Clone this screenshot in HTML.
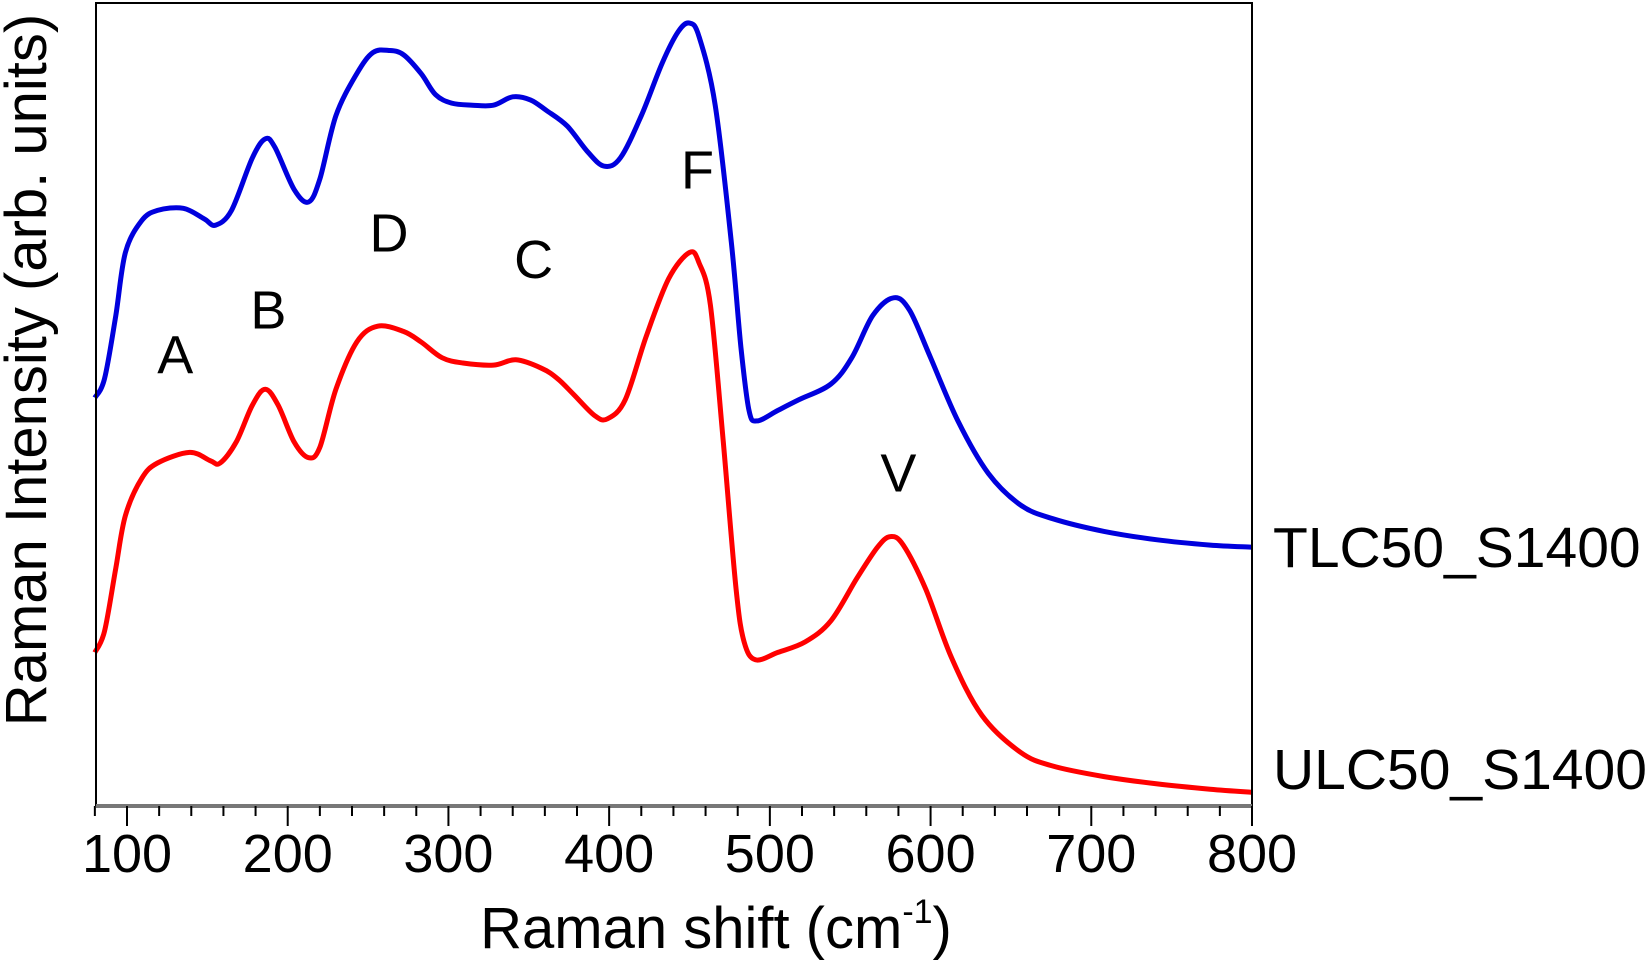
<!DOCTYPE html>
<html><head><meta charset="utf-8"><style>
html,body{margin:0;padding:0;background:#fff;width:1650px;height:960px;overflow:hidden}
svg{display:block;font-family:"Liberation Sans",Arial,sans-serif}
</style></head><body>
<svg id="chart" width="1650" height="960" viewBox="0 0 1650 960">
<g id="marks"></g>
<rect x="96" y="3" width="1156" height="802" fill="none" stroke="#000" stroke-width="2"/>
<line x1="96" y1="806" x2="1252" y2="806" stroke="#777" stroke-width="4"/>
<g id="xticks"></g>
<text x="716" y="948" font-size="58" text-anchor="middle">Raman shift (cm<tspan font-size="34" dy="-25">-1</tspan><tspan dy="25">)</tspan></text>
<text transform="translate(46,370) rotate(-90)" font-size="58" text-anchor="middle">Raman Intensity (arb. units)</text>
<text x="1273" y="567" font-size="57">TLC50_S1400</text>
<text x="1273" y="789" font-size="57">ULC50_S1400</text>
<g id="peaks" font-size="54" text-anchor="middle"></g>
</svg>
<script>
const blueX=[80,86,93,99,109,119,135,148,155,165,178,186,192,204,213,220,230,243,253,263,272,283,292,302,315,328,340,351,361,374,387,397,407,420,433,443,450,456,466,476,482,487,492,505,518,538,551,564,577,587,600,617,636,656,676,708,741,774,800];
const blueY=[422,440,500,560,590,600,602,592,586,600,650,668,660,620,608,630,690,730,750,752,748,730,710,702,700,700,708,705,695,680,655,642,650,690,740,770,778,765,700,570,470,410,400,410,420,435,460,500,517,505,460,400,350,320,307,295,287,282,280];
const redX=[80,86,93,99,109,119,139,152,158,168,178,186,194,204,213,220,230,243,256,272,283,296,309,328,342,358,368,378,391,399,410,423,437,450,456,463,471,479,484,491,505,522,538,554,567,575,583,597,613,632,656,676,708,741,774,800];
const redY=[180,200,260,310,345,360,370,362,360,380,415,430,415,380,365,375,430,475,490,485,475,460,455,453,458,450,440,425,405,402,420,480,535,560,550,510,380,240,190,173,180,190,210,250,280,290,282,240,175,120,85,72,62,55,50,47];
const tickLabels=["100","200","300","400","500","600","700","800"];
const peakNames=["A","B","D","C","F","V"];
const peakX=[130,188,263,353,455,580];
const peakY=[464,507,580,555,640,352];
const NS="http://www.w3.org/2000/svg";
const xs=v=>127+(v-100)*(1125/700);
const ys=v=>841.8-1.0523*v;
function path(X,Y,color,name){
  const P=X.map((x,i)=>[xs(x),ys(Y[i])]);
  let d='M'+P[0][0].toFixed(1)+','+P[0][1].toFixed(1);
  for(let i=0;i<P.length-1;i++){
    const p0=P[Math.max(0,i-1)],p1=P[i],p2=P[i+1],p3=P[Math.min(P.length-1,i+2)];
    const c1=[p1[0]+(p2[0]-p0[0])/6,p1[1]+(p2[1]-p0[1])/6];
    const c2=[p2[0]-(p3[0]-p1[0])/6,p2[1]-(p3[1]-p1[1])/6];
    d+='C'+c1[0].toFixed(1)+','+c1[1].toFixed(1)+' '+c2[0].toFixed(1)+','+c2[1].toFixed(1)+' '+p2[0].toFixed(1)+','+p2[1].toFixed(1);
  }
  const p=document.createElementNS(NS,'path');
  p.setAttribute('d',d);p.setAttribute('fill','none');p.setAttribute('stroke',color);
  p.setAttribute('stroke-width','5');p.setAttribute('stroke-linejoin','round');
  
  
  document.getElementById('marks').appendChild(p);
}
path(blueX,blueY,'#0000dd','series-tlc50-s1400');
path(redX,redY,'#ff0000','series-ulc50-s1400');
const tg=document.getElementById('xticks');
for(let v=80;v<=800;v+=20){
  const major=v%100===0;
  const l=document.createElementNS(NS,'line');
  l.setAttribute('x1',xs(v));l.setAttribute('x2',xs(v));
  l.setAttribute('y1',806);l.setAttribute('y2',major?826:816);
  l.setAttribute('stroke','#000');l.setAttribute('stroke-width','2');
  
  
  tg.appendChild(l);
}
tickLabels.forEach(s=>{
  const t=document.createElementNS(NS,'text');
  t.setAttribute('x',xs(+s));t.setAttribute('y',872);
  t.setAttribute('font-size','54');t.setAttribute('text-anchor','middle');
  t.textContent=s;
  
  
  tg.appendChild(t);
});
const pg=document.getElementById('peaks');
peakNames.forEach((n,i)=>{
  const t=document.createElementNS(NS,'text');
  t.setAttribute('x',xs(peakX[i]));t.setAttribute('y',ys(peakY[i])+20);
  t.textContent=n;
  
  
  pg.appendChild(t);
});
</script>
</body></html>
